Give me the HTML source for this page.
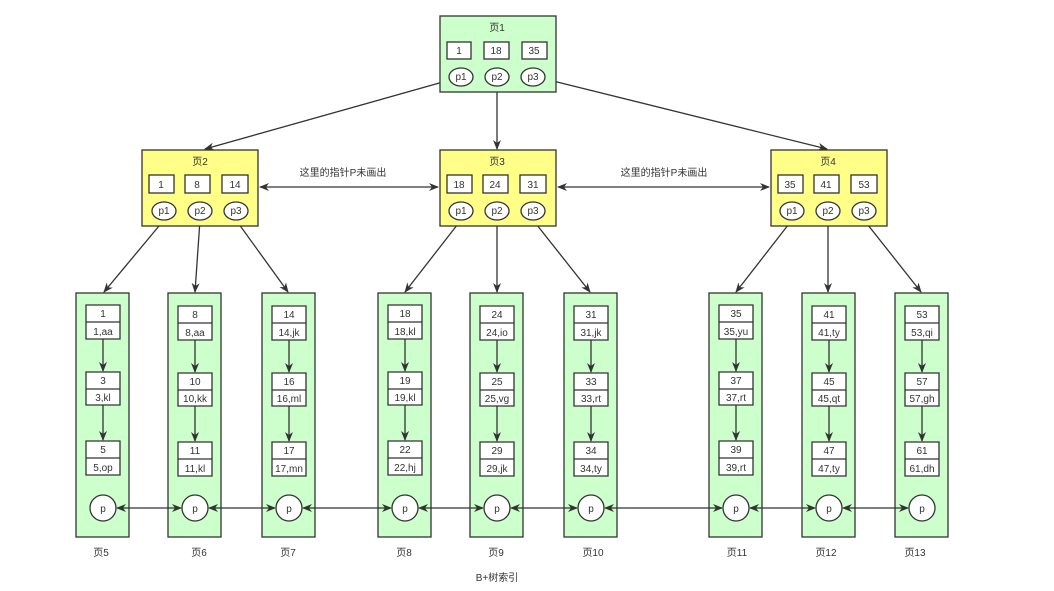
<!DOCTYPE html>
<html><head><meta charset="utf-8"><style>
html,body{margin:0;padding:0;background:#fff;}
svg{display:block;}
text{font-family:"Liberation Sans","Noto Sans CJK SC",sans-serif;font-size:10px;fill:#333;text-anchor:middle;}
</style></head><body>
<svg width="1054" height="591" viewBox="0 0 1054 591" xmlns="http://www.w3.org/2000/svg">
<defs>
<marker id="a" markerWidth="10" markerHeight="8" refX="9" refY="4" orient="auto" markerUnits="userSpaceOnUse"><path d="M0,0 L10,4 L0,8 L3,4 Z" fill="#333"/></marker>
<marker id="b" markerWidth="10" markerHeight="8" refX="1" refY="4" orient="auto" markerUnits="userSpaceOnUse"><path d="M10,0 L0,4 L10,8 L7,4 Z" fill="#333"/></marker>
</defs>
<g stroke="#333" stroke-width="1.3" fill="none">
<line x1="450" y1="80" x2="205" y2="149" marker-end="url(#a)"/>
<line x1="497" y1="85" x2="497" y2="149" marker-end="url(#a)"/>
<line x1="545" y1="79" x2="827" y2="149" marker-end="url(#a)"/>
<line x1="260" y1="187" x2="438" y2="187" marker-start="url(#b)" marker-end="url(#a)"/>
<line x1="558" y1="187" x2="769" y2="187" marker-start="url(#b)" marker-end="url(#a)"/>
<line x1="164" y1="220" x2="104" y2="292" marker-end="url(#a)"/>
<line x1="200" y1="220" x2="195" y2="292" marker-end="url(#a)"/>
<line x1="236" y1="220" x2="288" y2="292" marker-end="url(#a)"/>
<line x1="461" y1="220" x2="405" y2="292" marker-end="url(#a)"/>
<line x1="497" y1="220" x2="497" y2="292" marker-end="url(#a)"/>
<line x1="533" y1="220" x2="590" y2="292" marker-end="url(#a)"/>
<line x1="792" y1="220" x2="736" y2="292" marker-end="url(#a)"/>
<line x1="828" y1="220" x2="828" y2="292" marker-end="url(#a)"/>
<line x1="864" y1="220" x2="921" y2="292" marker-end="url(#a)"/>
</g>

<g stroke="#333" stroke-width="1.3">
<rect x="440" y="16" width="116" height="76" fill="#ccffcc"/>
<rect x="447" y="42" width="24" height="17" fill="#fff"/>
<rect x="484" y="42" width="25" height="17" fill="#fff"/>
<rect x="522" y="42" width="25" height="17" fill="#fff"/>
<ellipse cx="461" cy="77" rx="12" ry="9" fill="#fff"/>
<ellipse cx="497" cy="77" rx="12" ry="9" fill="#fff"/>
<ellipse cx="533" cy="77" rx="12" ry="9" fill="#fff"/>
</g>
<text x="497" y="31">页1</text>
<text x="459" y="54">1</text><text x="496" y="54">18</text><text x="534" y="54">35</text>
<text x="461" y="80">p1</text><text x="497" y="80">p2</text><text x="533" y="80">p3</text>

<g stroke="#333" stroke-width="1.3">
<rect x="142" y="150" width="116" height="76" fill="#ffff88"/>
<rect x="149" y="175" width="25" height="18" fill="#fff"/><rect x="185" y="175" width="25" height="18" fill="#fff"/><rect x="222" y="175" width="26" height="18" fill="#fff"/>
<ellipse cx="164" cy="211" rx="12" ry="9" fill="#fff"/><ellipse cx="200" cy="211" rx="12" ry="9" fill="#fff"/><ellipse cx="236" cy="211" rx="12" ry="9" fill="#fff"/>
<rect x="440" y="150" width="116" height="76" fill="#ffff88"/>
<rect x="447" y="175" width="25" height="18" fill="#fff"/><rect x="483" y="175" width="25" height="18" fill="#fff"/><rect x="520" y="175" width="26" height="18" fill="#fff"/>
<ellipse cx="461" cy="211" rx="12" ry="9" fill="#fff"/><ellipse cx="497" cy="211" rx="12" ry="9" fill="#fff"/><ellipse cx="533" cy="211" rx="12" ry="9" fill="#fff"/>
<rect x="771" y="150" width="116" height="76" fill="#ffff88"/>
<rect x="778" y="175" width="25" height="18" fill="#fff"/><rect x="814" y="175" width="25" height="18" fill="#fff"/><rect x="851" y="175" width="26" height="18" fill="#fff"/>
<ellipse cx="792" cy="211" rx="12" ry="9" fill="#fff"/><ellipse cx="828" cy="211" rx="12" ry="9" fill="#fff"/><ellipse cx="864" cy="211" rx="12" ry="9" fill="#fff"/>
</g>
<text x="200" y="165">页2</text><text x="161" y="188">1</text><text x="197" y="188">8</text><text x="235" y="188">14</text>
<text x="164" y="214">p1</text><text x="200" y="214">p2</text><text x="236" y="214">p3</text>
<text x="497" y="165">页3</text><text x="459" y="188">18</text><text x="495" y="188">24</text><text x="533" y="188">31</text>
<text x="461" y="214">p1</text><text x="497" y="214">p2</text><text x="533" y="214">p3</text>
<text x="828" y="165">页4</text><text x="790" y="188">35</text><text x="826" y="188">41</text><text x="864" y="188">53</text>
<text x="792" y="214">p1</text><text x="828" y="214">p2</text><text x="864" y="214">p3</text>
<text x="343" y="176">这里的指针P未画出</text>
<text x="664" y="176">这里的指针P未画出</text>

<g stroke="#333" stroke-width="1.3" fill="#ccffcc">
<rect x="76" y="293" width="53" height="244"/><rect x="168" y="293" width="53" height="244"/><rect x="262" y="293" width="53" height="244"/>
<rect x="378" y="293" width="53" height="244"/><rect x="470" y="293" width="53" height="244"/><rect x="564" y="293" width="53" height="244"/>
<rect x="709" y="293" width="53" height="244"/><rect x="802" y="293" width="53" height="244"/><rect x="895" y="293" width="53" height="244"/>
</g>
<g stroke="#333" stroke-width="1.3" fill="none">
<line x1="117" y1="508" x2="181" y2="508" marker-start="url(#b)" marker-end="url(#a)"/>
<line x1="209" y1="508" x2="275" y2="508" marker-start="url(#b)" marker-end="url(#a)"/>
<line x1="303" y1="508" x2="391" y2="508" marker-start="url(#b)" marker-end="url(#a)"/>
<line x1="419" y1="508" x2="483" y2="508" marker-start="url(#b)" marker-end="url(#a)"/>
<line x1="511" y1="508" x2="577" y2="508" marker-start="url(#b)" marker-end="url(#a)"/>
<line x1="605" y1="508" x2="722" y2="508" marker-start="url(#b)" marker-end="url(#a)"/>
<line x1="750" y1="508" x2="815" y2="508" marker-start="url(#b)" marker-end="url(#a)"/>
<line x1="843" y1="508" x2="908" y2="508" marker-start="url(#b)" marker-end="url(#a)"/>
</g>
<g stroke="#333" stroke-width="1.3" fill="#fff">
<path d="M86,305h34v34h-34zM86,322h34M86,372h34v33h-34zM86,389h34M86,441h34v34h-34zM86,458h34"/>
<path d="M178,306h34v34h-34zM178,323h34M178,373h34v33h-34zM178,390h34M178,442h34v34h-34zM178,459h34"/>
<path d="M272,306h34v34h-34zM272,323h34M272,373h34v33h-34zM272,390h34M272,442h34v34h-34zM272,459h34"/>
<path d="M388,305h34v34h-34zM388,322h34M388,372h34v33h-34zM388,389h34M388,441h34v34h-34zM388,458h34"/>
<path d="M480,306h34v34h-34zM480,323h34M480,373h34v33h-34zM480,390h34M480,442h34v34h-34zM480,459h34"/>
<path d="M574,306h34v34h-34zM574,323h34M574,373h34v33h-34zM574,390h34M574,442h34v34h-34zM574,459h34"/>
<path d="M719,305h34v34h-34zM719,322h34M719,372h34v33h-34zM719,389h34M719,441h34v34h-34zM719,458h34"/>
<path d="M812,306h34v34h-34zM812,323h34M812,373h34v33h-34zM812,390h34M812,442h34v34h-34zM812,459h34"/>
<path d="M905,306h34v34h-34zM905,323h34M905,373h34v33h-34zM905,390h34M905,442h34v34h-34zM905,459h34"/>
<circle cx="103" cy="508" r="13"/><circle cx="195" cy="508" r="13"/><circle cx="289" cy="508" r="13"/>
<circle cx="405" cy="508" r="13"/><circle cx="497" cy="508" r="13"/><circle cx="591" cy="508" r="13"/>
<circle cx="736" cy="508" r="13"/><circle cx="829" cy="508" r="13"/><circle cx="922" cy="508" r="13"/>
</g>
<g stroke="#333" stroke-width="1.3" fill="none">
<line x1="103" y1="339" x2="103" y2="371" marker-end="url(#a)"/><line x1="103" y1="405" x2="103" y2="440" marker-end="url(#a)"/>
<line x1="195" y1="340" x2="195" y2="372" marker-end="url(#a)"/><line x1="195" y1="406" x2="195" y2="441" marker-end="url(#a)"/>
<line x1="289" y1="340" x2="289" y2="372" marker-end="url(#a)"/><line x1="289" y1="406" x2="289" y2="441" marker-end="url(#a)"/>
<line x1="405" y1="339" x2="405" y2="371" marker-end="url(#a)"/><line x1="405" y1="405" x2="405" y2="440" marker-end="url(#a)"/>
<line x1="497" y1="340" x2="497" y2="372" marker-end="url(#a)"/><line x1="497" y1="406" x2="497" y2="441" marker-end="url(#a)"/>
<line x1="591" y1="340" x2="591" y2="372" marker-end="url(#a)"/><line x1="591" y1="406" x2="591" y2="441" marker-end="url(#a)"/>
<line x1="736" y1="339" x2="736" y2="371" marker-end="url(#a)"/><line x1="736" y1="405" x2="736" y2="440" marker-end="url(#a)"/>
<line x1="829" y1="340" x2="829" y2="372" marker-end="url(#a)"/><line x1="829" y1="406" x2="829" y2="441" marker-end="url(#a)"/>
<line x1="922" y1="340" x2="922" y2="372" marker-end="url(#a)"/><line x1="922" y1="406" x2="922" y2="441" marker-end="url(#a)"/>
</g>
<text x="103" y="317">1</text><text x="103" y="335">1,aa</text><text x="103" y="384">3</text><text x="103" y="401">3,kl</text><text x="103" y="453">5</text><text x="103" y="471">5,op</text>
<text x="195" y="318">8</text><text x="195" y="336">8,aa</text><text x="195" y="385">10</text><text x="195" y="402">10,kk</text><text x="195" y="454">11</text><text x="195" y="472">11,kl</text>
<text x="289" y="318">14</text><text x="289" y="336">14,jk</text><text x="289" y="385">16</text><text x="289" y="402">16,ml</text><text x="289" y="454">17</text><text x="289" y="472">17,mn</text>
<text x="405" y="317">18</text><text x="405" y="335">18,kl</text><text x="405" y="384">19</text><text x="405" y="401">19,kl</text><text x="405" y="453">22</text><text x="405" y="471">22,hj</text>
<text x="497" y="318">24</text><text x="497" y="336">24,io</text><text x="497" y="385">25</text><text x="497" y="402">25,vg</text><text x="497" y="454">29</text><text x="497" y="472">29,jk</text>
<text x="591" y="318">31</text><text x="591" y="336">31,jk</text><text x="591" y="385">33</text><text x="591" y="402">33,rt</text><text x="591" y="454">34</text><text x="591" y="472">34,ty</text>
<text x="736" y="317">35</text><text x="736" y="335">35,yu</text><text x="736" y="384">37</text><text x="736" y="401">37,rt</text><text x="736" y="453">39</text><text x="736" y="471">39,rt</text>
<text x="829" y="318">41</text><text x="829" y="336">41,ty</text><text x="829" y="385">45</text><text x="829" y="402">45,qt</text><text x="829" y="454">47</text><text x="829" y="472">47,ty</text>
<text x="922" y="318">53</text><text x="922" y="336">53,qi</text><text x="922" y="385">57</text><text x="922" y="402">57,gh</text><text x="922" y="454">61</text><text x="922" y="472">61,dh</text>
<text x="103" y="512">p</text><text x="195" y="512">p</text><text x="289" y="512">p</text><text x="405" y="512">p</text><text x="497" y="512">p</text><text x="591" y="512">p</text><text x="736" y="512">p</text><text x="829" y="512">p</text><text x="922" y="512">p</text>
<text x="101" y="556">页5</text><text x="199" y="556">页6</text><text x="288" y="556">页7</text><text x="404" y="556">页8</text><text x="496" y="556">页9</text><text x="593" y="556">页10</text><text x="737" y="556">页11</text><text x="826" y="556">页12</text><text x="915" y="556">页13</text>
<text x="497" y="581">B+树索引</text>
</svg>
</body></html>
